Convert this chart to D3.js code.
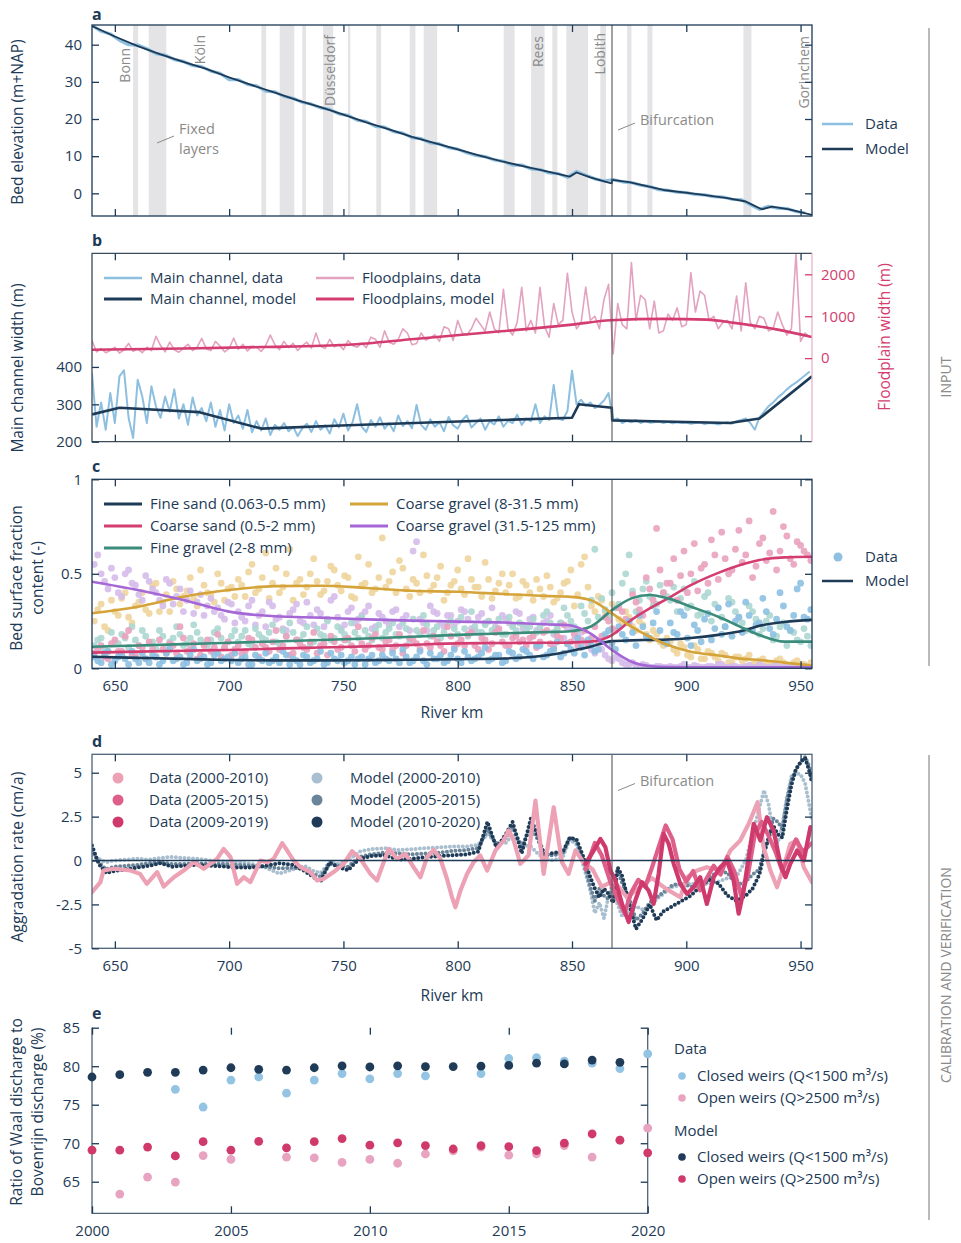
<!DOCTYPE html>
<html><head><meta charset="utf-8">
<script src="https://cdn.jsdelivr.net/npm/d3@7"></script>
<style>
body{margin:0;background:#fff}
svg{display:block;font-family:"Open Sans",sans-serif}
</style></head><body>
<svg id="fig" width="961" height="1243"></svg>
<script>
// ---------- shared ----------
const kmTicks = [650, 700, 750, 800, 850, 900, 950];
const bifurcationKm = 867.5;

// ---------- (a) bed elevation ----------
const fixedLayers = [[658.0,660.2],[664.8,672.5],[714.1,716.2],[722.1,728.5],[732.0,733.6],[741.1,745.5],[752.0,753.0],[764.4,766.5],[779.0,781.5],[785.1,791.0],[820.1,824.9],[832.1,838.0],[841.4,843.6],[847.5,857.0],[862.4,864.9],[874.1,876.0],[883.0,885.2],[925.0,928.5]];
const cityNames = ["Bonn", "Köln", "Düsseldorf", "Rees", "Lobith", "Gorinchem"];
const cityKm = [654.6, 687.4, 744.3, 835.1, 862.4, 951.6];
const elevTicks = [0, 10, 20, 30, 40];
// measured bed level every 4 km from km 640
const elevDataStart = 640, elevDataStep = 4;
const elevData = [45.2,43.6,42.9,41.2,40.0,39.9,38.9,37.6,37.2,36.0,35.5,34.4,34.1,32.9,32.3,30.6,30.6,29.3,28.9,27.5,
  27.3,26.1,25.6,24.5,24.0,23.0,22.6,21.4,21.0,19.7,19.3,18.0,17.8,16.6,16.2,15.0,14.7,13.6,13.3,12.3,
  11.9,10.9,10.2,9.9,9.0,8.6,7.6,7.6,6.6,6.4,5.5,5.3,4.3,5.9,4.9,3.9,3.3,3.7,3.1,2.9,
  2.2,1.8,1.0,0.8,0.3,0.2,-0.3,-0.4,-0.9,-1.0,-1.6,-1.7,-3.0,-4.3,-3.5,-4.0,-4.1,-4.9,-5.3];
const elevModelKm = [640,650,660,670,680,690,700,710,720,730,740,750,760,770,780,790,800,810,820,830,840,849,852,858,866,867.4,867.6,875,890,905,918,926,929,933,937.5,945,955];
const elevModel = [45.0,42.2,39.6,37.4,35.4,33.5,31.2,29.1,27.1,25.0,23.2,21.2,19.1,17.2,15.2,13.5,11.8,10.1,8.5,7.1,5.8,4.5,5.6,4.3,2.9,2.7,3.6,3.0,0.9,-0.2,-1.3,-2.2,-3.1,-4.3,-3.6,-4.3,-5.8];

// ---------- (b) widths ----------
const widthTicks = [200, 300, 400];
const floodTicks = [0, 1000, 2000];
const widthDataStart = 640, widthDataStep = 2;
const mainWidthData = [383,240,305,232,330,250,375,391,264,210,366,321,250,348,294,264,321,280,340,262,300,245,318,270,290,255,305,240,285,230,
  300,250,270,235,285,225,255,230,262,218,245,232,250,228,240,215,236,248,226,255,232,244,222,260,238,275,230,252,300,240,
  226,258,240,265,235,250,228,270,242,255,236,298,245,232,260,240,252,228,266,244,235,258,270,238,250,262,232,255,246,268,
  240,256,250,272,245,262,255,300,250,268,258,352,262,258,282,390,300,312,296,305,290,298,310,330,
  258,262,250,256,252,258,250,255,251,252,254,250,253,249,252,250,251,248,250,252,247,250,249,246,250,252,248,255,258,262,250,232,265,280,295,305,318,328,340,350,358,368,378,388];
const floodWidthData = [420,150,230,130,180,260,120,200,350,160,220,130,260,180,520,300,150,380,200,140,240,330,180,260,470,220,180,400,290,150,
  230,480,210,330,170,280,260,160,300,550,320,200,400,250,350,180,300,380,240,600,280,230,450,270,330,200,420,300,260,350,
  250,500,450,260,650,380,330,450,700,600,320,350,600,430,480,560,400,750,700,420,900,600,550,700,950,800,640,1100,700,600,
  1640,700,550,850,1690,650,900,600,1690,750,500,1300,800,900,2026,1100,700,850,1697,900,1000,700,1400,1760,
  100,1300,800,700,2280,900,1500,1400,700,1360,600,650,1050,900,1200,750,800,2040,1100,1600,1500,900,1000,700,850,900,700,1480,650,1800,850,700,1000,950,650,700,1100,800,550,700,2500,400,600,500];
const mainModelKm = [640,652,687,714,752,824,850,853,867.4,867.6,890,919,932,955];
const mainModel = [273,291,279,235,244,259,264,300,291,257,254,250,262,375];
const floodModelKm = [640,680,714,752,781,819,850,867,890,909,921,940,955];
const floodModel = [200,230,264,320,457,640,800,904,937,920,841,680,505];

// ---------- (c) surface composition ----------
const fracTicks = [0, 0.5, 1];
const fractionNames = ["Fine sand (0.063-0.5 mm)", "Coarse sand (0.5-2 mm)", "Fine gravel (2-8 mm)", "Coarse gravel (8-31.5 mm)", "Coarse gravel (31.5-125 mm)"];
// two interleaved sampling campaigns, every 3 km
const fracSampleStartA = 641, fracSampleStartB = 642.5, fracSampleStep = 3;
const fineSandA = [0.06,0.03,0.09,0.04,0.07,0.02,0.05,0.08,0.03,0.06,0.04,0.10,0.05,0.02,0.07,0.04,0.06,0.03,0.08,0.05,0.04,
  0.03,0.06,0.02,0.05,0.08,0.04,0.03,0.07,0.05,0.02,0.06,0.04,0.09,0.03,0.05,0.07,0.04,0.02,0.06,0.05,0.03,
  0.07,0.04,0.05,0.10,0.03,0.06,0.04,0.08,0.05,0.03,0.07,0.05,0.09,0.04,0.06,0.11,0.05,0.07,0.04,0.08,0.06,
  0.09,0.05,0.12,0.07,0.10,0.06,0.13,0.08,0.11,0.15,0.09,0.14,0.20,0.10,0.18,0.25,0.12,0.22,0.16,0.30,0.14,
  0.24,0.18,0.28,0.12,0.20,0.26,0.15,0.32,0.22,0.17,0.27,0.35,0.20,0.24,0.30,0.18,0.40,0.22,0.28,0.45,0.26];
const fineSandB = [0.04,0.08,0.02,0.06,0.05,0.09,0.03,0.05,0.07,0.02,0.08,0.04,0.06,0.03,0.10,0.05,0.02,0.07,0.04,0.06,0.08,
  0.05,0.02,0.07,0.04,0.03,0.06,0.09,0.02,0.04,0.07,0.03,0.05,0.02,0.08,0.04,0.03,0.06,0.05,0.02,0.07,0.04,
  0.05,0.08,0.03,0.06,0.04,0.09,0.02,0.05,0.07,0.04,0.10,0.03,0.06,0.05,0.08,0.04,0.07,0.03,0.09,0.05,0.10,
  0.07,0.12,0.06,0.09,0.14,0.08,0.10,0.16,0.07,0.12,0.10,0.18,0.13,0.22,0.15,0.19,0.28,0.17,0.24,0.20,0.13,
  0.19,0.30,0.16,0.23,0.14,0.29,0.21,0.18,0.34,0.25,0.19,0.28,0.23,0.37,0.21,0.26,0.33,0.20,0.42,0.27,0.31];
const coarseSandA = [0.08,0.12,0.05,0.15,0.09,0.20,0.07,0.11,0.14,0.06,0.10,0.13,0.08,0.16,0.10,0.05,0.12,0.09,0.18,0.11,0.07,
  0.12,0.09,0.15,0.06,0.11,0.14,0.10,0.17,0.08,0.13,0.10,0.19,0.12,0.07,0.14,0.11,0.16,0.09,0.13,0.12,0.18,
  0.10,0.15,0.12,0.08,0.16,0.13,0.20,0.11,0.14,0.09,0.17,0.13,0.12,0.19,0.10,0.15,0.13,0.21,0.12,0.16,0.14,
  0.12,0.17,0.14,0.20,0.11,0.16,0.13,0.18,0.15,0.12,0.22,0.17,0.25,0.20,0.30,0.24,0.35,0.28,0.42,0.74,0.40,
  0.45,0.36,0.62,0.50,0.41,0.55,0.68,0.47,0.58,0.52,0.73,0.60,0.48,0.66,0.57,0.83,0.62,0.70,0.55,0.65,0.60];
const coarseSandB = [0.10,0.06,0.13,0.09,0.17,0.07,0.12,0.05,0.10,0.15,0.08,0.12,0.22,0.09,0.13,0.07,0.15,0.11,0.06,0.14,0.10,
  0.08,0.16,0.11,0.13,0.09,0.20,0.12,0.07,0.15,0.11,0.14,0.08,0.13,0.17,0.10,0.15,0.12,0.22,0.10,0.16,0.11,
  0.14,0.10,0.18,0.12,0.15,0.10,0.13,0.17,0.12,0.22,0.11,0.15,0.18,0.12,0.16,0.10,0.19,0.14,0.12,0.17,0.15,
  0.16,0.11,0.19,0.13,0.17,0.23,0.14,0.12,0.20,0.16,0.14,0.27,0.21,0.32,0.26,0.39,0.31,0.48,0.36,0.52,0.45,
  0.58,0.49,0.40,0.66,0.53,0.45,0.60,0.72,0.50,0.63,0.56,0.78,0.54,0.69,0.61,0.52,0.75,0.58,0.67,0.62,0.57];
const fineGravelA = [0.12,0.16,0.09,0.14,0.18,0.11,0.15,0.20,0.13,0.10,0.17,0.14,0.22,0.12,0.16,0.19,0.13,0.15,0.21,0.11,0.17,
  0.14,0.20,0.12,0.18,0.15,0.23,0.13,0.17,0.19,0.15,0.22,0.14,0.18,0.25,0.16,0.20,0.15,0.19,0.27,0.17,0.20,
  0.16,0.21,0.18,0.24,0.15,0.20,0.28,0.17,0.22,0.19,0.25,0.18,0.21,0.30,0.19,0.23,0.20,0.26,0.18,0.22,0.24,
  0.20,0.26,0.22,0.30,0.19,0.24,0.28,0.22,0.33,0.25,0.63,0.37,0.28,0.32,0.45,0.60,0.30,0.42,0.38,0.34,0.40,
  0.36,0.30,0.42,0.33,0.28,0.38,0.25,0.32,0.22,0.35,0.27,0.20,0.30,0.18,0.25,0.15,0.22,0.12,0.19,0.14,0.17];
const fineGravelB = [0.15,0.10,0.19,0.13,0.16,0.22,0.12,0.17,0.14,0.20,0.11,0.16,0.18,0.13,0.23,0.15,0.12,0.19,0.16,0.14,0.20,
  0.17,0.13,0.21,0.16,0.19,0.14,0.20,0.24,0.15,0.18,0.13,0.21,0.17,0.15,0.22,0.18,0.24,0.16,0.20,0.15,0.23,
  0.19,0.24,0.17,0.21,0.26,0.18,0.23,0.20,0.16,0.24,0.21,0.27,0.17,0.22,0.19,0.25,0.21,0.18,0.27,0.20,0.23,
  0.22,0.19,0.28,0.24,0.21,0.32,0.25,0.20,0.29,0.36,0.27,0.31,0.40,0.34,0.50,0.41,0.36,0.46,0.33,0.44,0.38,
  0.43,0.37,0.32,0.46,0.29,0.40,0.34,0.27,0.37,0.30,0.24,0.33,0.26,0.21,0.28,0.17,0.24,0.20,0.15,0.21,0.12];
const coarseGravelA = [0.25,0.34,0.20,0.30,0.37,0.27,0.33,0.40,0.29,0.45,0.35,0.30,0.42,0.38,0.48,0.33,0.44,0.39,0.50,0.36,0.43,
  0.47,0.38,0.55,0.42,0.61,0.45,0.40,0.50,0.36,0.47,0.43,0.58,0.39,0.46,0.52,0.41,0.48,0.37,0.44,0.55,0.42,
  0.69,0.46,0.40,0.53,0.38,0.45,0.60,0.41,0.48,0.36,0.44,0.52,0.39,0.47,0.43,0.56,0.37,0.45,0.40,0.50,0.38,
  0.44,0.36,0.42,0.49,0.35,0.40,0.46,0.33,0.55,0.43,0.30,0.36,0.28,0.32,0.24,0.27,0.20,0.23,0.15,0.18,0.12,
  0.14,0.08,0.11,0.06,0.10,0.05,0.08,0.04,0.07,0.03,0.06,0.05,0.02,0.04,0.03,0.02,0.05,0.01,0.03,0.02,0.01];
const coarseGravelB = [0.31,0.22,0.36,0.28,0.40,0.24,0.35,0.31,0.44,0.30,0.39,0.46,0.34,0.41,0.37,0.52,0.40,0.35,0.45,0.42,0.38,
  0.44,0.51,0.40,0.48,0.37,0.53,0.43,0.63,0.45,0.39,0.50,0.46,0.41,0.54,0.44,0.49,0.38,0.59,0.45,0.40,0.48,
  0.43,0.51,0.57,0.42,0.47,0.40,0.49,0.44,0.54,0.40,0.46,0.42,0.58,0.43,0.38,0.47,0.41,0.50,0.44,0.37,0.46,
  0.40,0.47,0.38,0.43,0.37,0.45,0.52,0.39,0.59,0.33,0.38,0.30,0.34,0.26,0.30,0.22,0.25,0.18,0.20,0.14,0.16,
  0.10,0.13,0.07,0.12,0.05,0.09,0.06,0.08,0.03,0.06,0.04,0.07,0.03,0.05,0.02,0.04,0.03,0.01,0.04,0.02,0.03];
const cobbleA = [0.55,0.50,0.42,0.48,0.38,0.52,0.44,0.36,0.46,0.40,0.33,0.45,0.38,0.30,0.41,0.35,0.28,0.37,0.32,0.26,0.34,
  0.30,0.25,0.36,0.28,0.22,0.33,0.27,0.20,0.31,0.25,0.35,0.23,0.29,0.26,0.38,0.21,0.30,0.24,0.28,0.33,0.22,
  0.27,0.23,0.31,0.26,0.20,0.67,0.24,0.33,0.29,0.22,0.28,0.25,0.30,0.21,0.27,0.24,0.32,0.20,0.26,0.23,0.29,
  0.22,0.27,0.20,0.25,0.18,0.24,0.21,0.15,0.19,0.12,0.08,0.10,0.05,0.06,0.03,0.02,0.01,0.02,0.005,0.01,0.005,
  0.01,0.005,0.02,0.005,0.01,0.005,0.01,0.02,0.005,0.01,0.005,0.01,0.005,0.02,0.005,0.01,0.005,0.01,0.005,0.01,0.005];
const cobbleB = [0.60,0.46,0.53,0.40,0.50,0.45,0.39,0.49,0.42,0.36,0.47,0.34,0.42,0.36,0.29,0.39,0.33,0.30,0.28,0.35,0.24,
  0.27,0.33,0.23,0.30,0.35,0.26,0.21,0.29,0.34,0.24,0.28,0.31,0.22,0.36,0.27,0.23,0.32,0.26,0.30,0.21,0.29,
  0.25,0.30,0.22,0.28,0.62,0.26,0.20,0.30,0.24,0.28,0.23,0.31,0.26,0.20,0.29,0.25,0.22,0.28,0.24,0.30,0.21,
  0.26,0.20,0.24,0.28,0.21,0.16,0.22,0.18,0.14,0.10,0.13,0.07,0.04,0.05,0.02,0.03,0.01,0.015,0.005,0.01,0.005,
  0.005,0.01,0.005,0.015,0.005,0.01,0.005,0.02,0.005,0.01,0.005,0.015,0.005,0.01,0.005,0.02,0.005,0.01,0.005,0.01,0.005];
const fracModelKm = [640,660,680,700,720,740,760,780,800,820,840,848,858,867.5,876,884,892,902,914,925,932,943,955];
const fineSandModel = [0.061,0.055,0.05,0.044,0.042,0.042,0.043,0.045,0.048,0.052,0.07,0.088,0.114,0.144,0.148,0.15,0.152,0.16,0.177,0.2,0.225,0.245,0.256];
const coarseSandModel = [0.083,0.088,0.093,0.097,0.104,0.11,0.116,0.124,0.132,0.134,0.135,0.136,0.141,0.176,0.256,0.317,0.37,0.44,0.505,0.552,0.573,0.587,0.59];
const fineGravelModel = [0.114,0.121,0.128,0.135,0.142,0.15,0.158,0.167,0.177,0.185,0.192,0.195,0.22,0.308,0.37,0.388,0.37,0.326,0.273,0.212,0.176,0.141,0.141];
const coarseGravelModel = [0.291,0.326,0.379,0.414,0.435,0.437,0.425,0.41,0.405,0.393,0.382,0.379,0.361,0.291,0.22,0.167,0.123,0.088,0.068,0.05,0.044,0.03,0.014];
const cobbleModel = [0.458,0.414,0.361,0.3,0.275,0.268,0.259,0.252,0.247,0.242,0.232,0.229,0.185,0.097,0.035,0.012,0.006,0.005,0.005,0.005,0.005,0.005,0.005];

// ---------- (d) aggradation ----------
const aggTicks = [-5, -2.5, 0, 2.5, 5];
const aggModelKm = [640,643,646,650,655,660,665,670,675,680,686,692,698,704,710,716,722,728,733,737,
  740,744,748,752,757,762,768,774,780,786,792,798,804,809,813,817,821,824,828,832,
  835,838,842,846,849,852,855,858,860,862,864,866,868,870,872,875,878,881,884,887,
  890,894,898,902,906,910,914,918,922,926,929,932,934,936,938,940,942,944,946,948,950,952,954,955];
const aggModel2000 = [0.3,0.1,-0.1,0.0,0.05,0.1,0.05,0.15,0.2,0.15,0.1,0.0,-0.05,-0.1,-0.2,-0.4,-0.75,-0.5,-0.3,-0.6,
  -0.7,-0.1,-0.2,0.0,0.5,0.65,0.7,0.6,0.65,0.7,0.75,0.8,0.8,0.9,1.5,1.0,1.0,1.5,0.9,0.8,
  0.4,0.1,0.0,0.2,1.2,0.9,-0.3,-1.7,-3.0,-2.4,-3.3,-2.0,-1.9,-2.5,-3.2,-2.9,-2.6,-2.8,-2.7,-2.2,
  -1.9,-1.5,-1.4,-1.3,-1.4,-1.3,-1.2,-1.0,-0.9,0.0,1.5,3.0,4.0,3.2,1.6,1.0,2.0,3.6,4.8,5.0,4.9,4.4,3.0,2.3];
const aggModel2005 = [0.6,-0.1,-0.5,-0.35,-0.3,-0.25,-0.15,-0.1,-0.2,-0.2,-0.15,-0.2,-0.2,-0.25,-0.3,-0.35,-0.45,-0.4,-0.5,-0.8,
  -0.9,-0.2,-0.3,-0.35,0.2,0.35,0.45,0.4,0.35,0.4,0.45,0.55,0.6,0.7,1.8,0.9,1.3,1.9,0.8,1.9,
  1.2,0.3,0.3,0.4,1.3,1.1,0.0,-1.5,-2.3,-1.6,-2.0,-2.2,-1.2,-0.6,-1.3,-2.1,-3.4,-3.0,-2.4,-2.1,
  -1.8,-1.4,-1.3,-1.5,-1.4,-1.0,-0.6,-0.7,-1.4,-1.2,-0.8,-0.5,0.5,1.2,2.4,2.2,1.8,3.4,4.6,5.2,5.6,5.9,5.3,4.6];
const aggModel2010 = [0.85,-0.2,-0.7,-0.6,-0.5,-0.4,-0.3,-0.15,-0.35,-0.3,-0.25,-0.3,-0.35,-0.4,-0.4,-0.3,-0.15,-0.25,-0.6,-0.95,
  -1.2,-0.1,-0.4,-0.55,0.1,0.25,0.3,0.05,0.1,0.2,0.25,0.3,0.35,0.5,2.2,0.7,1.5,2.2,0.4,2.4,
  1.4,0.3,0.45,0.5,1.3,1.2,0.2,-0.95,-1.6,-2.1,-1.6,-1.9,-2.4,-0.4,-0.9,-2.5,-3.9,-3.3,-2.5,-3.4,
  -2.9,-2.6,-2.3,-2.0,-1.5,-1.1,-1.3,-2.0,-2.3,-2.0,-1.6,-0.8,0.4,1.3,2.0,1.5,1.3,2.9,4.3,5.2,5.6,5.85,5.0,4.4];
const aggData2000 = [[640,-1.8],[643.7,-1.23],[645,-0.57],[649.5,-0.47],[656.8,-0.57],[661,-0.76],[664,-1.33],[668.5,-0.66],[671.4,-1.48],[675.8,-0.95],
  [680.1,-0.57],[684.5,-0.09],[688.9,-0.47],[694.7,0.09],[697.6,0.66],[700.6,0.19],[703.5,-1.33],[706.4,-0.95],[709.3,-1.23],[713.7,0],
  [716.6,-0.1],[719.5,0.1],[723.2,0.99],[725.4,0.57],[728.2,0],[731.2,-0.38],[735.5,-0.66],[738.5,-1.14],[741.4,-1.04],[745.7,-0.66],
  [750.1,-0.19],[753.8,0.53],[757.4,0.1],[761.8,-0.76],[764.7,-1.14],[767.6,-0.1],[769.8,0.66],[773.5,0.1],[777.1,0.38],[780.7,-0.38],
  [783.7,-0.95],[786.6,0.19],[789.5,0.61],[792.4,0.1],[795.3,-1.04],[797.5,-2.09],[799,-2.66],[801.2,-1.71],[804.1,-0.76],[807,-0.09],
  [809.9,0.28],[812.9,-0.57],[816.5,0.57],[820.1,1.14],[822.3,1.71],[824.5,1.14],[827.4,-0.19],[831,0.3],[834,3.41],[837.6,-0.76],
  [842,3.03],[845.6,-0.09],[848.5,-0.76],[851.5,0.57],[855,-0.09],[859,-0.5],[863,-1.5],[868.2,-1.14],[874,-2.09],[879.9,-1.52],
  [885,-1.0],[891,-1.6],[897.4,-2.09],[900.3,-0.95],[904.7,-0.57],[909,-0.38],[914.9,-0.57],[919.3,0.57],[923.6,1.14],[927.3,2.09],
  [931.2,3.32],[933.8,0.76],[936.8,-0.57],[939.7,-1.52],[942.6,-0.38],[945.5,0.95],[948.5,1.14],[951.4,-0.38],[955,-1.23]];
const aggData2005 = [[856,-0.5],[860,1.0],[863,0.3],[867,-1.3],[870,-2.2],[873,-3.0],[876,-1.8],[879,-1.1],[882,-1.5],[885,-0.4],
  [888,0.8],[891,2.0],[894,1.2],[897,-0.5],[900,-1.2],[903,-0.6],[906,-1.7],[909,-1.0],[912,-0.3],[915,-0.8],
  [918,0.2],[921,-0.6],[924,-2.0],[927,-0.8],[930,1.5],[933,2.2],[936,1.4],[939,0.5],[942,-0.6],[945,0.3],[948,1.2],[951,0.5],[955,1.0]];
const aggData2009 = [[855.8,-0.19],[859.5,0.57],[862.4,1.23],[864.6,0.76],[866.8,-0.57],[869,-1.14],[871.9,-2.47],[874.8,-3.5],[877.7,-2.28],[880.6,-1.23],
  [883.5,-1.71],[885.7,-2.47],[887.9,-0.76],[890.1,1.52],[892.3,0.95],[894.5,-0.19],[897.4,-1.33],[900.3,-1.9],[903.2,-1.52],[906.1,-0.95],
  [909,-2.47],[912,-0.95],[914.9,-0.38],[917.8,0],[920.7,-1.14],[922.9,-3.03],[925.1,-1.71],[927.3,0.19],[929.5,2.09],[932.4,1.14],
  [935.3,2.47],[938.2,1.71],[941.2,-0.19],[943.4,-0.95],[945.5,-0.19],[948.5,0.57],[951.4,0],[954.3,1.9]];

// ---------- (e) discharge ratio ----------
const years = d3.range(2000, 2021);
const yearTicks = [2000, 2005, 2010, 2015, 2020];
const ratioTicks = [65, 70, 75, 80, 85];
const closedData  = [null,null,null,77.0,74.7,78.2,78.6,76.5,78.2,79.05,78.35,79.05,78.75,null,79.05,81.0,81.1,80.65,80.4,79.7,81.6];
const closedModel = [78.6,78.9,79.2,79.2,79.5,79.8,79.6,79.5,79.8,80.05,79.9,80.05,79.95,79.95,80.0,80.1,80.4,80.3,80.8,80.5,null];
const openData    = [null,63.4,65.6,64.95,68.4,67.9,null,68.2,68.1,67.5,67.9,67.4,68.6,69.0,69.5,68.45,68.6,69.7,68.2,70.4,71.95];
const openModel   = [69.1,69.1,69.5,68.35,70.2,69.1,70.25,69.4,70.2,70.6,69.75,70.05,69.7,69.25,69.7,69.55,69.05,70.0,71.2,70.4,68.75];

// ---------- colours ----------
const NAVY = "#1d3a56", GREY = "#8a8a8a", LBLUE = "#8dbfe0", PINK = "#e3a2bf", MAGENTA = "#d43d70";
const fracLine = ["#1d3a56", "#d43d70", "#3c8c7c", "#d4a33a", "#a567d6"];
const fracDot  = ["#8dc0e2", "#eaa2be", "#acd7d1", "#eed59c", "#d5bcea"];
const aggDataCol = ["#eda1b4", "#dd5f8a", "#cf3a6c"];
const aggModelCol = ["#a9bfcf", "#6a8499", "#1f3b57"];

// ---------- helpers ----------
const svg = d3.select("#fig");
const FONT = "'Open Sans',sans-serif";
const x = d3.scaleLinear().domain([640, 955]).range([92, 812]);
const L = 92, R = 812;
const bySteps = (start, step, vals) => vals.map((v, i) => [start + i * step, v]);
const zip = (a, b) => a.map((v, i) => [v, b[i]]);

function styleAxis(g, color = NAVY, size = 15) {
  g.select(".domain").remove();
  g.attr("font-size", size).attr("font-family", FONT);
  g.selectAll("line").attr("stroke", color).attr("stroke-width", 1.3);
  g.selectAll("text").attr("fill", color);
  return g;
}
function kmAxes(top, bottom, labelled) {
  styleAxis(svg.append("g").attr("transform", `translate(0,${top})`)
    .call(d3.axisTop(x).tickValues(kmTicks).tickSize(-7).tickFormat("")));
  styleAxis(svg.append("g").attr("transform", `translate(0,${bottom})`)
    .call(d3.axisBottom(x).tickValues(kmTicks).tickSize(-7).tickPadding(12).tickFormat(labelled ? d3.format("d") : "")));
}
function frame(top, bottom, color = NAVY) {
  svg.append("rect").attr("x", L).attr("y", top).attr("width", R - L).attr("height", bottom - top)
    .attr("fill", "none").attr("stroke", color).attr("stroke-width", 1.3);
}
function clip(id, top, bottom, x0 = L, x1 = R) {
  svg.append("clipPath").attr("id", id).append("rect").attr("x", x0).attr("y", top).attr("width", x1 - x0).attr("height", bottom - top);
  return svg.append("g").attr("clip-path", `url(#${id})`);
}
function vlabel(lines, cx, cy, color = NAVY, size = 15.5) {
  lines.forEach((t, i) => {
    svg.append("text").attr("transform", `translate(${cx + i * 21},${cy}) rotate(-90)`)
      .attr("text-anchor", "middle").attr("dy", "0.35em").attr("font-size", size).attr("font-family", FONT)
      .attr("fill", color).text(t);
  });
}
function txt(t, px, py, opts = {}) {
  return svg.append("text").attr("x", px).attr("y", py).attr("dy", "0.35em")
    .attr("font-size", opts.size || 15).attr("font-family", FONT).attr("fill", opts.color || NAVY)
    .attr("font-weight", opts.weight || null).attr("text-anchor", opts.anchor || "start").text(t);
}
function bifLine(top, bottom) {
  svg.append("line").attr("x1", x(bifurcationKm)).attr("x2", x(bifurcationKm)).attr("y1", top).attr("y2", bottom)
    .attr("stroke", "#555").attr("stroke-width", 1.1);
}
function panelLetter(l, py) { txt(l, 92, py, { weight: "bold", size: 16 }); }

// ===== panel a =====
{
  const top = 25, bottom = 216;
  const y = d3.scaleLinear().domain([-6.1, 45.3]).range([bottom, top]);
  const g = clip("ca", top, bottom);
  g.selectAll("rect.band").data(fixedLayers).join("rect").attr("class", "band")
    .attr("x", d => x(d[0])).attr("width", d => x(d[1]) - x(d[0])).attr("y", top).attr("height", bottom - top)
    .attr("fill", "#e4e4e7");
  const cityTop = [48, 35, 35, 36, 33, 36];
  cityNames.forEach((c, i) => {
    svg.append("text").attr("transform", `translate(${x(cityKm[i])},${cityTop[i]}) rotate(-90)`)
      .attr("text-anchor", "end").attr("dy", "0.35em").attr("font-size", 14).attr("font-family", FONT)
      .attr("fill", GREY).text(c);
  });
  const line = d3.line().x(d => x(d[0])).y(d => y(d[1]));
  g.append("path").attr("d", line(bySteps(elevDataStart, elevDataStep, elevData))).attr("fill", "none")
    .attr("stroke", LBLUE).attr("stroke-width", 3.2).attr("stroke-linejoin", "round");
  g.append("path").attr("d", line(zip(elevModelKm, elevModel))).attr("fill", "none")
    .attr("stroke", NAVY).attr("stroke-width", 1.8).attr("stroke-linejoin", "round");
  bifLine(top, bottom);
  frame(top, bottom);
  kmAxes(top, bottom, false);
  styleAxis(svg.append("g").attr("transform", `translate(${L},0)`)
    .call(d3.axisLeft(y).tickValues(elevTicks).tickSize(-7).tickPadding(10)));
  styleAxis(svg.append("g").attr("transform", `translate(${R},0)`)
    .call(d3.axisRight(y).tickValues(elevTicks).tickSize(-7).tickFormat("")));
  vlabel(["Bed elevation (m+NAP)"], 18, 122);
  panelLetter("a", 14);
  // annotations
  svg.append("line").attr("x1", 157).attr("y1", 143).attr("x2", 174).attr("y2", 136).attr("stroke", GREY);
  txt("Fixed", 179, 129, { color: GREY, size: 14.5 });
  txt("layers", 179, 149, { color: GREY, size: 14.5 });
  svg.append("line").attr("x1", 618).attr("y1", 130).attr("x2", 635).attr("y2", 123).attr("stroke", GREY);
  txt("Bifurcation", 640, 120, { color: GREY, size: 14.5 });
  // legend
  svg.append("line").attr("x1", 822).attr("x2", 853).attr("y1", 124).attr("y2", 124).attr("stroke", LBLUE).attr("stroke-width", 2.5);
  txt("Data", 865, 124);
  svg.append("line").attr("x1", 822).attr("x2", 853).attr("y1", 149).attr("y2", 149).attr("stroke", NAVY).attr("stroke-width", 2.5);
  txt("Model", 865, 149);
}

// ===== panel b =====
{
  const top = 253.3, bottom = 441.7;
  const yW = d3.scaleLinear().domain([200, 704]).range([bottom, top]);
  const yF = d3.scaleLinear().domain([-1995, 2502]).range([bottom, top]);
  const g = clip("cb", top, bottom);
  const lineW = d3.line().x(d => x(d[0])).y(d => yW(d[1]));
  const lineF = d3.line().x(d => x(d[0])).y(d => yF(d[1]));
  g.append("path").attr("d", lineF(bySteps(widthDataStart, widthDataStep, floodWidthData))).attr("fill", "none")
    .attr("stroke", PINK).attr("stroke-width", 1.6).attr("stroke-linejoin", "round");
  g.append("path").attr("d", lineW(bySteps(widthDataStart, widthDataStep, mainWidthData))).attr("fill", "none")
    .attr("stroke", LBLUE).attr("stroke-width", 2).attr("stroke-linejoin", "round");
  g.append("path").attr("d", lineF.curve(d3.curveMonotoneX)(zip(floodModelKm, floodModel))).attr("fill", "none")
    .attr("stroke", MAGENTA).attr("stroke-width", 2.6);
  g.append("path").attr("d", lineW(zip(mainModelKm, mainModel))).attr("fill", "none")
    .attr("stroke", NAVY).attr("stroke-width", 2.6).attr("stroke-linejoin", "round");
  bifLine(top, bottom);
  // spines: dark on three sides, pink on the floodplain side
  svg.append("path").attr("d", `M${R},${top}H${L}V${bottom}H${R}`).attr("fill", "none").attr("stroke", "#3d4a58").attr("stroke-width", 1.3);
  svg.append("line").attr("x1", R).attr("x2", R).attr("y1", top).attr("y2", bottom).attr("stroke", "#e8b3c9").attr("stroke-width", 1.3);
  kmAxes(top, bottom, false);
  styleAxis(svg.append("g").attr("transform", `translate(${L},0)`)
    .call(d3.axisLeft(yW).tickValues(widthTicks).tickSize(-7).tickPadding(10)));
  styleAxis(svg.append("g").attr("transform", `translate(${R},0)`)
    .call(d3.axisRight(yF).tickValues(floodTicks).tickSize(-7).tickPadding(9).tickFormat(d3.format("d"))), MAGENTA);
  vlabel(["Main channel width (m)"], 18, 368);
  vlabel(["Floodplain width (m)"], 885, 337, MAGENTA);
  panelLetter("b", 240);
  const leg = [[104, 278, LBLUE, 2, "Main channel, data"], [104, 299, NAVY, 2.6, "Main channel, model"],
               [316, 278, PINK, 2, "Floodplains, data"], [316, 299, MAGENTA, 2.6, "Floodplains, model"]];
  leg.forEach(([lx, ly, c, w, t]) => {
    svg.append("line").attr("x1", lx).attr("x2", lx + 38).attr("y1", ly).attr("y2", ly).attr("stroke", c).attr("stroke-width", w + 0.6);
    txt(t, lx + 46, ly);
  });
}

// ===== panel c =====
{
  const top = 479.3, bottom = 668.3;
  const y = d3.scaleLinear().domain([0, 1]).range([bottom, top]);
  const g = clip("cc", top, bottom);
  // drawing order of the sample clouds: coarse gravel, cobbles, fine gravel, coarse sand, fine sand
  const samples = [[coarseGravelA, coarseGravelB, 3], [cobbleA, cobbleB, 4], [fineGravelA, fineGravelB, 2], [coarseSandA, coarseSandB, 1], [fineSandA, fineSandB, 0]];
  samples.forEach(([a, b, k]) => {
    const pts = bySteps(fracSampleStartA, fracSampleStep, a).concat(bySteps(fracSampleStartB, fracSampleStep, b));
    g.append("g").selectAll("circle").data(pts).join("circle")
      .attr("cx", d => x(d[0])).attr("cy", d => y(d[1])).attr("r", 3.4)
      .attr("fill", fracDot[k]).attr("fill-opacity", 0.9);
  });
  const models = [fineSandModel, coarseSandModel, fineGravelModel, coarseGravelModel, cobbleModel];
  const line = d3.line().x(d => x(d[0])).y(d => y(d[1])).curve(d3.curveMonotoneX);
  models.forEach((m, k) => {
    g.append("path").attr("d", line(zip(fracModelKm, m))).attr("fill", "none")
      .attr("stroke", fracLine[k]).attr("stroke-width", 2.6);
  });
  bifLine(top, bottom);
  frame(top, bottom);
  kmAxes(top, bottom, true);
  styleAxis(svg.append("g").attr("transform", `translate(${L},0)`)
    .call(d3.axisLeft(y).tickValues(fracTicks).tickSize(-7).tickPadding(10).tickFormat(d => d === 0.5 ? "0.5" : d3.format("d")(d))));
  styleAxis(svg.append("g").attr("transform", `translate(${R},0)`)
    .call(d3.axisRight(y).tickValues(fracTicks).tickSize(-7).tickFormat("")));
  vlabel(["Bed surface fraction", "content (-)"], 17, 578);
  txt("River km", 452, 713, { anchor: "middle", size: 15.5 });
  panelLetter("c", 466);
  const pos = [[104, 504], [104, 526], [104, 548], [350, 504], [350, 526]];
  fractionNames.forEach((n, k) => {
    const [lx, ly] = pos[k];
    svg.append("line").attr("x1", lx).attr("x2", lx + 38).attr("y1", ly).attr("y2", ly).attr("stroke", fracLine[k]).attr("stroke-width", 3);
    txt(n, lx + 46, ly);
  });
  svg.append("circle").attr("cx", 838).attr("cy", 557).attr("r", 4.5).attr("fill", fracDot[0]);
  txt("Data", 865, 557);
  svg.append("line").attr("x1", 822).attr("x2", 853).attr("y1", 581).attr("y2", 581).attr("stroke", NAVY).attr("stroke-width", 2.5);
  txt("Model", 865, 581);
}

// ===== panel d =====
{
  const top = 754.3, bottom = 948.3;
  const y = d3.scaleLinear().domain([-5, 6.05]).range([bottom, top]);
  const g = clip("cd", top, bottom);
  const line = d3.line().x(d => x(d[0])).y(d => y(d[1]));
  [aggModel2000, aggModel2005, aggModel2010].forEach((m, k) => {
    g.append("path").attr("d", line(zip(aggModelKm, m))).attr("fill", "none")
      .attr("stroke", aggModelCol[k]).attr("stroke-width", 4).attr("stroke-linecap", "round").attr("stroke-linejoin", "round")
      .attr("stroke-dasharray", "0 4.3");
  });
  [aggData2000, aggData2005, aggData2009].forEach((dset, k) => {
    g.append("path").attr("d", line(dset)).attr("fill", "none")
      .attr("stroke", aggDataCol[k]).attr("stroke-width", 4.2).attr("stroke-linejoin", "round").attr("stroke-linecap", "round");
  });
  svg.append("line").attr("x1", L).attr("x2", R).attr("y1", y(0)).attr("y2", y(0)).attr("stroke", NAVY).attr("stroke-width", 1.5);
  bifLine(top, bottom);
  frame(top, bottom, "#4e6379");
  kmAxes(top, bottom, true);
  styleAxis(svg.append("g").attr("transform", `translate(${L},0)`)
    .call(d3.axisLeft(y).tickValues(aggTicks).tickSize(-7).tickPadding(10).tickFormat(d => d === 0 ? "0" : String(d))));
  styleAxis(svg.append("g").attr("transform", `translate(${R},0)`)
    .call(d3.axisRight(y).tickValues(aggTicks).tickSize(-7).tickFormat("")));
  vlabel(["Aggradation rate (cm/a)"], 18, 857);
  txt("River km", 452, 996, { anchor: "middle", size: 15.5 });
  panelLetter("d", 741);
  svg.append("line").attr("x1", 618).attr("y1", 790.5).attr("x2", 635).attr("y2", 783.5).attr("stroke", GREY);
  txt("Bifurcation", 640, 781, { color: GREY, size: 14.5 });
  const dNames = ["Data (2000-2010)", "Data (2005-2015)", "Data (2009-2019)"];
  const mNames = ["Model (2000-2010)", "Model (2005-2015)", "Model (2010-2020)"];
  [778, 800, 822].forEach((ly, k) => {
    svg.append("circle").attr("cx", 118).attr("cy", ly).attr("r", 5.5).attr("fill", aggDataCol[k]);
    txt(dNames[k], 149, ly);
    svg.append("circle").attr("cx", 317).attr("cy", ly).attr("r", 5.5).attr("fill", aggModelCol[k]);
    txt(mNames[k], 350, ly);
  });
}

// ===== panel e =====
{
  const top = 1027.7, bottom = 1213.3, eL = 92, eR = 647.7;
  const xe = d3.scaleLinear().domain([2000, 2020]).range([eL, eR]);
  const y = d3.scaleLinear().domain([60.9, 85]).range([bottom, top]);
  const FR = "#4e6379";
  svg.append("path").attr("d", `M${eL},${top}V${bottom}H${eR}V${top}`).attr("fill", "none").attr("stroke", FR).attr("stroke-width", 1.3);
  styleAxis(svg.append("g").attr("transform", `translate(0,${bottom})`)
    .call(d3.axisBottom(xe).tickValues(yearTicks).tickSize(-7).tickPadding(12).tickFormat(d3.format("d"))));
  styleAxis(svg.append("g").attr("transform", `translate(0,${top})`)
    .call(d3.axisTop(xe).tickValues(yearTicks).tickSize(-7).tickFormat("")));
  styleAxis(svg.append("g").attr("transform", `translate(${eL},0)`)
    .call(d3.axisLeft(y).tickValues(ratioTicks).tickSize(-7).tickPadding(12)));
  styleAxis(svg.append("g").attr("transform", `translate(${eR},0)`)
    .call(d3.axisRight(y).tickValues(ratioTicks).tickSize(-7).tickFormat("")));
  const series = [[closedData, "#93c4e4"], [openData, "#e8a3c0"], [closedModel, "#1f3b57"], [openModel, "#d03a6a"]];
  series.forEach(([vals, c]) => {
    svg.append("g").selectAll("circle").data(zip(years, vals).filter(d => d[1] != null)).join("circle")
      .attr("cx", d => xe(d[0])).attr("cy", d => y(d[1])).attr("r", 4.4).attr("fill", c);
  });
  vlabel(["Ratio of Waal discharge to", "Bovenrijn discharge (%)"], 17, 1112);
  panelLetter("e", 1013);
  txt("Data", 674, 1049);
  svg.append("circle").attr("cx", 682).attr("cy", 1076).attr("r", 3.8).attr("fill", "#93c4e4");
  txt("Closed weirs (Q<1500 m³/s)", 697, 1076);
  svg.append("circle").attr("cx", 682).attr("cy", 1098).attr("r", 3.8).attr("fill", "#e8a3c0");
  txt("Open weirs (Q>2500 m³/s)", 697, 1098);
  txt("Model", 674, 1131);
  svg.append("circle").attr("cx", 682).attr("cy", 1157).attr("r", 3.8).attr("fill", "#1f3b57");
  txt("Closed weirs (Q<1500 m³/s)", 697, 1157);
  svg.append("circle").attr("cx", 682).attr("cy", 1179).attr("r", 3.8).attr("fill", "#d03a6a");
  txt("Open weirs (Q>2500 m³/s)", 697, 1179);
}

// ===== section brackets =====
svg.append("line").attr("x1", 929).attr("x2", 929).attr("y1", 28).attr("y2", 666).attr("stroke", "#8c8c8c").attr("stroke-width", 1.2);
svg.append("line").attr("x1", 929).attr("x2", 929).attr("y1", 755).attr("y2", 1220).attr("stroke", "#8c8c8c").attr("stroke-width", 1.2);
vlabel(["INPUT"], 946, 377, GREY, 14);
vlabel(["CALIBRATION AND VERIFICATION"], 946, 975, GREY, 14);
</script></body></html>
